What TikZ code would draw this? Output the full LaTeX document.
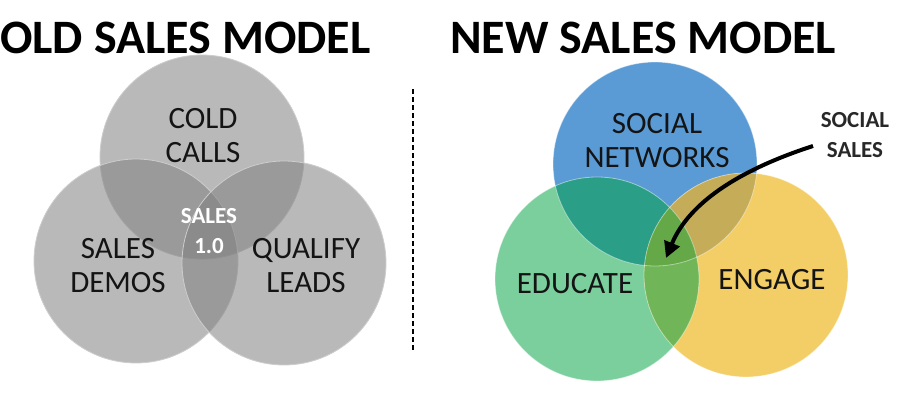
\documentclass[tikz,border=0pt]{standalone}
\usepackage{fontspec}
\setmainfont{Carlito}
\usetikzlibrary{arrows.meta}
\definecolor{oldgray}{RGB}{128,128,128}
\definecolor{oldedge}{RGB}{205,205,205}
\definecolor{snblue}{RGB}{91,155,213}
\definecolor{edgreen}{RGB}{122,207,157}
\definecolor{enyellow}{RGB}{243,206,102}
\definecolor{bgmix}{RGB}{42,158,135}
\definecolor{bymix}{RGB}{196,172,88}
\definecolor{gymix}{RGB}{112,182,88}
\definecolor{allmix}{RGB}{100,168,72}
\definecolor{txtdark}{RGB}{20,20,20}
\definecolor{labelgray}{RGB}{40,40,40}
\tikzset{
  oldc/.style={circle, minimum size=204pt, inner sep=0pt, fill=oldgray, fill opacity=0.55, draw=oldedge, line width=0.8pt},
  newc/.style={circle, minimum size=204pt, inner sep=0pt},
  rim/.style={draw=white, draw opacity=0.45, line width=0.8pt},
  title/.style={font=\bfseries\fontsize{48}{52}\selectfont, text=black, inner sep=0pt},
  lbl/.style={font=\fontsize{31}{34}\selectfont, text=txtdark, align=center, inner sep=0pt},
  lblw/.style={font=\bfseries\fontsize{23}{30}\selectfont, text=white, align=center, inner sep=0pt},
  lbls/.style={font=\bfseries\fontsize{23}{30}\selectfont, text=labelgray, align=center, inner sep=0pt},
  pointer/.style={line width=4pt, -{Triangle[length=16pt,width=16pt]}},
  divider/.style={dashed, line width=1.5pt, dash pattern=on 5pt off 3pt}
}
\begin{document}
\begin{tikzpicture}[x=1pt,y=-1pt]
\useasboundingbox (0,0) rectangle (899,411);
% titles
\node[title, anchor=west] (oldtitle) at (0,38) {OLD SALES MODEL};
\node[title, anchor=west] (newtitle) at (450,38) {NEW SALES MODEL};
% old model
\node[oldc] (cold) at (202,157) {};
\node[oldc] (demos) at (136,261) {};
\node[oldc] (qualify) at (284,263) {};
\node[lbl] (coldt) at (203,136) {COLD\\CALLS};
\node[lbl] (demost) at (118,266) {SALES\\DEMOS};
\node[lbl] (qualt) at (306,266) {QUALIFY\\LEADS};
\node[lblw] (salest) at (209,231) {SALES\\1.0};
% divider
\coordinate (dtop) at (413,89);
\coordinate (dbot) at (413,352);
\draw[divider] (dtop) -- (dbot);
% new model circles
\node[newc, fill=snblue] (social) at (655,164) {};
\node[newc, fill=edgreen] (educate) at (597,279) {};
\node[newc, fill=enyellow] (engage) at (746,275) {};
% overlaps
\begin{scope}
  \clip (social.center) circle (102);
  \fill[bgmix] (educate.center) circle (102);
  \fill[bymix] (engage.center) circle (102);
\end{scope}
\begin{scope}
  \clip (educate.center) circle (102);
  \fill[gymix] (engage.center) circle (102);
  \clip (engage.center) circle (102);
  \fill[allmix] (social.center) circle (102);
\end{scope}
\draw[rim] (social.center) circle (102);
\draw[rim] (educate.center) circle (102);
\draw[rim] (engage.center) circle (102);
\node[lbl] (socialt) at (657,141) {SOCIAL\\NETWORKS};
\node[lbl] (educatet) at (575,284) {EDUCATE};
\node[lbl] (engaget) at (772,280) {ENGAGE};
\node[lbls] (sst) at (855,135) {SOCIAL\\SALES};
\coordinate (astart) at (813,146);
\coordinate (aend) at (666,258);
\draw[pointer] (astart) .. controls (745,168) and (690,200) .. (aend);
\end{tikzpicture}
\end{document}
